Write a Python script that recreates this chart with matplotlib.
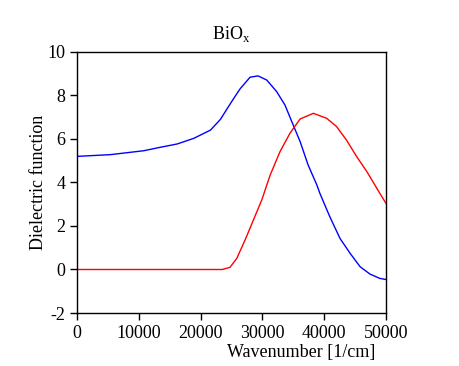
import numpy as np
import matplotlib.pyplot as plt

wn_re = [0, 5400, 10800, 13500, 16200, 18900, 21600, 23200, 24800, 25900, 26400,
         28000, 29300, 30700, 32300, 33650, 34750, 36100, 37400, 38800, 39300,
         40900, 42550, 44200, 45800, 47400, 49000, 50000]
eps_re = [5.20, 5.28, 5.46, 5.62, 5.77, 6.03, 6.41, 6.90, 7.62, 8.10, 8.31,
          8.84, 8.90, 8.71, 8.18, 7.56, 6.80, 5.88, 4.80, 3.89, 3.50,
          2.43, 1.43, 0.74, 0.13, -0.21, -0.41, -0.46]

# imaginary part (red)
wn_im = [0, 23500, 24750, 25850, 27200, 28550, 29900, 31250, 32850, 34450, 36100,
         38250, 40400, 42000, 43600, 45250, 46900, 49000, 50000]
eps_im = [0.0, 0.0, 0.10, 0.51, 1.36, 2.28, 3.20, 4.34, 5.42, 6.26, 6.92,
          7.18, 6.95, 6.57, 5.95, 5.19, 4.50, 3.50, 3.04]

plt.rcParams['font.family'] = ['Liberation Serif', 'DejaVu Serif']
plt.rcParams['axes.unicode_minus'] = False

fig = plt.figure(figsize=(4.59, 3.66), dpi=100)
ax = fig.add_axes([0.1678, 0.1448, 0.6732, 0.7132])

ax.plot(wn_re, eps_re, color='blue', lw=1)
ax.plot(wn_im, eps_im, color='red', lw=1)

ax.set_xlim(0, 50000)
ax.set_ylim(-2, 10)
ax.set_xticks(np.arange(0, 50001, 10000))
ax.set_yticks(np.arange(-2, 11, 2))
ax.tick_params(direction='out', length=5, labelsize=13, width=1)
for s in ax.spines.values():
    s.set_linewidth(1)

ax.set_title('BiO$_\\mathregular{x}$', fontsize=13, pad=9)
ax.set_ylabel('Dielectric function', fontsize=13)
ax.yaxis.set_label_coords(-0.097, 0.5)
fig.text(375/459, 1 - 352/366, 'Wavenumber [1/cm]', ha='right', va='center', fontsize=13)

fig.savefig('out.png', dpi=100)
